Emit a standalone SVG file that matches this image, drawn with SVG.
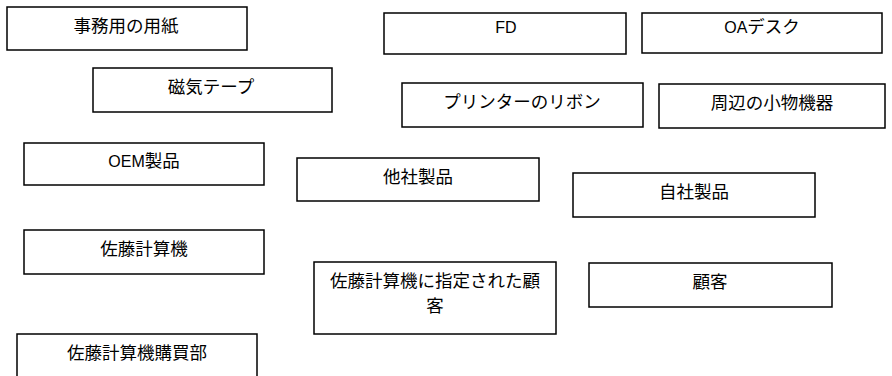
<svg xmlns="http://www.w3.org/2000/svg" width="892" height="376" viewBox="0 0 892 376">
<style>
.box{fill:#fff;stroke:#000;stroke-width:1.5}
.t{font-family:"Liberation Sans","Noto Sans CJK JP",sans-serif;font-size:17.5px;fill:#000;text-anchor:middle}
.l{font-size:16px}
</style>
<rect width="892" height="376" fill="#fff"/>
<g id="connectors"></g>
<g id="n1"><rect class="box" x="7" y="7" width="240" height="43"/><text class="t" x="126" y="32">事務用の用紙</text></g>
<g id="n2"><rect class="box" x="384" y="13" width="242" height="41"/><text class="t" x="506" y="33"><tspan class="l">FD</tspan></text></g>
<g id="n3"><rect class="box" x="642" y="13" width="240" height="40"/><text class="t" x="762" y="33"><tspan class="l">OA</tspan>デスク</text></g>
<g id="n4"><rect class="box" x="93" y="68" width="239" height="44"/><text class="t" x="211" y="93">磁気テープ</text></g>
<g id="n5"><rect class="box" x="402" y="83" width="241" height="44"/><text class="t" x="522" y="108">プリンターのリボン</text></g>
<g id="n6"><rect class="box" x="659" y="84" width="226" height="44"/><text class="t" x="772" y="109">周辺の小物機器</text></g>
<g id="n7"><rect class="box" x="24" y="143" width="240" height="42"/><text class="t" x="144" y="167"><tspan class="l">OEM</tspan>製品</text></g>
<g id="n8"><rect class="box" x="297" y="158" width="242" height="43"/><text class="t" x="418" y="183">他社製品</text></g>
<g id="n9"><rect class="box" x="573" y="173" width="242" height="44"/><text class="t" x="694" y="198">自社製品</text></g>
<g id="n10"><rect class="box" x="24" y="230" width="240" height="44"/><text class="t" x="144" y="255">佐藤計算機</text></g>
<g id="n11"><rect class="box" x="314" y="262" width="242" height="72"/><text class="t" x="435" y="287">佐藤計算機に指定された顧</text><text class="t" x="435" y="312">客</text></g>
<g id="n12"><rect class="box" x="589" y="263" width="243" height="44"/><text class="t" x="710" y="288">顧客</text></g>
<g id="n13"><rect class="box" x="17" y="334" width="240" height="50"/><text class="t" x="137" y="359">佐藤計算機購買部</text></g>
</svg>
